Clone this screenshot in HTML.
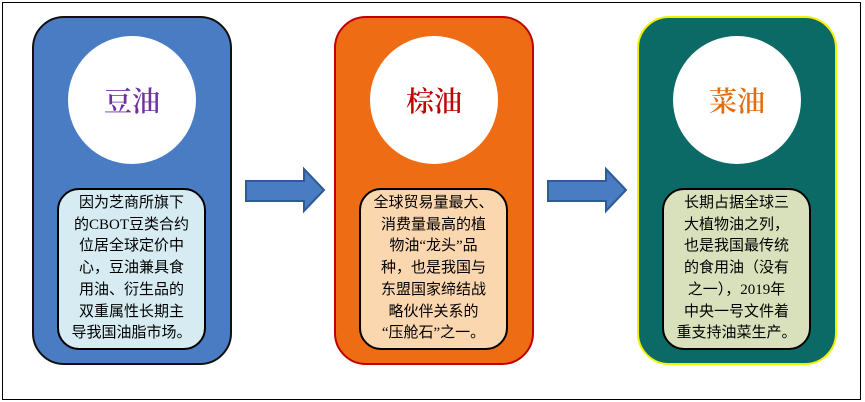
<!DOCTYPE html>
<html><head><meta charset="utf-8"><style>
body{margin:0;width:865px;height:402px;background:#fff;position:relative;overflow:hidden;font-family:"Liberation Serif","Noto Sans CJK SC",sans-serif}
.frame{position:absolute;left:2px;top:2px;width:857px;height:396px;border:1px solid #000}
.panel{position:absolute;top:16px;width:200px;height:349px;border-radius:32px;box-sizing:border-box}
.circ{position:absolute;width:128px;height:128px;border-radius:50%;background:#fff;top:18px;left:34px;display:flex;align-items:center;justify-content:center;font-family:"Noto Serif CJK SC",serif;font-size:28px;font-weight:600}
.box{position:absolute;left:23px;top:170px;width:149px;height:162px;border:2px solid #000;border-radius:22px;box-sizing:border-box;display:flex;align-items:center;justify-content:center;text-align:center;font-family:"Liberation Serif","Noto Sans CJK SC",sans-serif;font-size:15px;line-height:21.7px;color:#000;white-space:nowrap}
</style></head><body>
<div class="frame"></div>
<div class="panel" style="left:32px;background:#4a7cc4;border:2px solid #111">
 <div class="circ" style="color:#7030a0">豆油</div>
 <div class="box" style="background:#d6ecf2"><div>因为芝商所旗下<br>的CBOT豆类合约<br>位居全球定价中<br>心，豆油兼具食<br>用油、衍生品的<br>双重属性长期主<br>导我国油脂市场。</div></div>
</div>
<div class="panel" style="left:334px;background:#ee6d14;border:2px solid #c00000">
 <div class="circ" style="color:#c00000">棕油</div>
 <div class="box" style="background:#fbd7b0"><div>全球贸易量最大、<br>消费量最高的植<br>物油“龙头”品<br>种，也是我国与<br>东盟国家缔结战<br>略伙伴关系的<br>“压舱石”之一。</div></div>
</div>
<div class="panel" style="left:637px;background:#0b6a66;border:2px solid #f0f000">
 <div class="circ" style="color:#e46c0a">菜油</div>
 <div class="box" style="background:#d9e1bc"><div>长期占据全球三<br>大植物油之列，<br>也是我国最传统<br>的食用油（没有<br>之一），2019年<br>中央一号文件着<br>重支持油菜生产。</div></div>
</div>
<svg width="865" height="402" style="position:absolute;left:0;top:0">
 <polygon points="246,181 304,181 304,169 324,190 304,211 304,201 246,201" fill="#4a7cc4" stroke="#2e5a96" stroke-width="2"/>
 <polygon points="548,181 606,181 606,169 626,190 606,211 606,201 548,201" fill="#4a7cc4" stroke="#2e5a96" stroke-width="2"/>
</svg>
</body></html>
